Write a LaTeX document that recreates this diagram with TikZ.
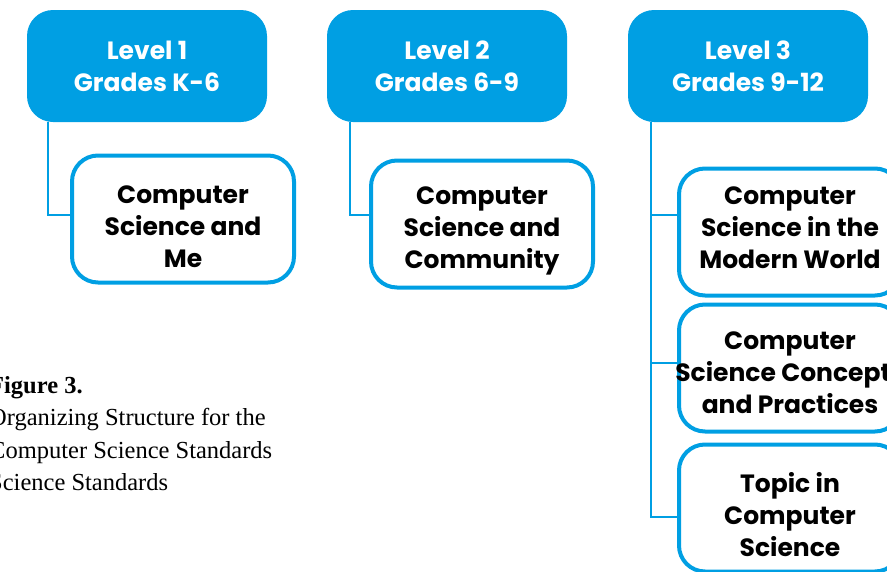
\documentclass[tikz,border=0pt]{standalone}
\usepackage{fontspec}
\setmainfont{Liberation Serif}
\setsansfont{Poppins}
\definecolor{csblue}{RGB}{0,159,227}
\tikzset{
  cstext/.style={align=center, inner sep=0pt,
    font=\sffamily\bfseries\fontsize{25}{32}\selectfont},
  levelbox/.style={cstext, fill=csblue, rounded corners=26pt, minimum width=240pt,
    minimum height=112pt, text=white},
  topicbox/.style={draw=csblue, line width=4pt, fill=white, rounded corners=26pt,
    minimum width=222pt, minimum height=127pt},
  link/.style={draw=csblue, line width=2pt}
}
\begin{document}
\begin{tikzpicture}[x=1pt, y=-1pt]
    \useasboundingbox (0,0) rectangle (887,571);
    % levels
    \node[levelbox] (lvlA) at (147,66)  {Level 1\\Grades K-6};
    \node[levelbox] (lvlB) at (447,66)  {Level 2\\Grades 6-9};
    \node[levelbox] (lvlC) at (748,66)  {Level 3\\Grades 9-12};
    % courses
    \node[topicbox] (meA)  at (183,219) {};
    \node[topicbox] (comB) at (482,224) {};
    \node[topicbox] (wldC) at (790,232) {};
    \node[topicbox] (prcC) at (790,368) {};
    \node[topicbox] (topC) at (790,508) {};
    \node[cstext] (meAt)  at ([yshift=-8]meA)  {Computer\\Science and\\Me};
    \node[cstext] (comBt) at ([yshift=-7]comB) {Computer\\Science and\\Community};
    \node[cstext] (wldCt) at ([yshift=4]wldC)  {Computer\\Science in the\\Modern World};
    \node[cstext] (prcCt) at ([yshift=-5]prcC) {Computer\\Science Concepts\\and Practices};
    \node[cstext] (topCt) at ([yshift=-7]topC) {Topic in\\Computer\\Science};
    % junctions
    \coordinate (jA) at (48,215);
    \coordinate (jB) at (350,215);
    \coordinate (jC1) at (651,215);
    \coordinate (jC2) at (651,363);
    \coordinate (jC3) at (651,517);
    \path[link] (lvlA.south -| jA) -- (jA) -- (jA -| meA.west);
    \path[link] (lvlB.south -| jB) -- (jB) -- (jB -| comB.west);
    \path[link] (lvlC.south -| jC1) -- (jC3) -- (jC3 -| topC.west)
        (jC1) -- (jC1 -| wldC.west)
        (jC2) -- (jC2 -| prcC.west);
    \node[anchor=north west, align=left, inner sep=0pt,
        font=\fontsize{24.5}{32.5}\selectfont] (cap) at (-11,376)
        {\textbf{Figure 3.}\\Organizing Structure for the\\Computer Science Standards\\Science Standards};
\end{tikzpicture}
\end{document}
